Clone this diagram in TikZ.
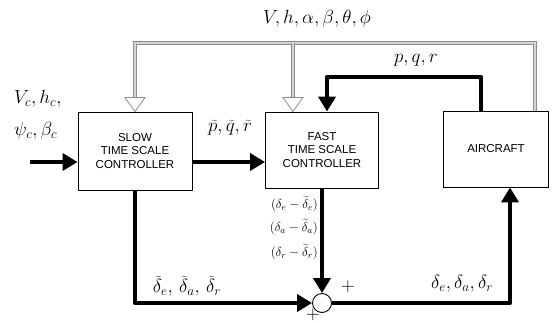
\documentclass[tikz,border=0pt]{standalone}
\usepackage{fix-cm}
\usepackage{fontspec}
\setsansfont{Liberation Sans}
\definecolor{feedGray}{HTML}{8C8C8C}
\definecolor{feedFill}{HTML}{D4D4D4}
\usepackage{tikz}
\usetikzlibrary{calc, positioning, arrows.meta}

\begin{document}
\begin{tikzpicture}[
        x=1pt, y=-1pt,
        block/.style={draw, line width=0.9pt, fill=white, font=\sffamily\fontsize{11.5}{13.5}\selectfont, align=center, inner sep=0pt},
        sig/.style={line width=4.5pt, line join=round},
        sigarrow/.style={sig, -{Triangle[length=15pt, width=17pt]}},
        feed/.style={draw=feedGray, double=feedFill, double distance=2.2pt, line width=0.8pt},
        lbl/.style={font=\fontsize{19}{21}\selectfont, inner sep=1pt},
        small/.style={font=\fontsize{13}{15}\selectfont, inner sep=0pt}
      ]
        \useasboundingbox (0,0) rectangle (553,324);

        \node[block, minimum width=114pt, minimum height=78pt] (slow) at (135,151) {SLOW\\TIME SCALE\\CONTROLLER};
        \node[block, minimum width=113pt, minimum height=76pt] (fast) at (322,150) {FAST\\TIME SCALE\\CONTROLLER};
        \node[block, minimum width=105pt, minimum height=76pt] (plant) at (496,149) {AIRCRAFT};
        \node[draw, circle, line width=0.9pt, minimum size=19pt, inner sep=0pt] (sum) at (322,303) {};

        % measured states fed back to both controllers
        \coordinate (fbR) at (535,43);
        \coordinate (fbL) at (135,43);
        \coordinate (fbM) at (293,43);
        \draw[feed] (plant.north -| fbR) -- (fbR) -- (fbL) -- ([yshift=12pt]slow.north);
        \draw[feed] (fbM) -- ([xshift=-29pt, yshift=12pt]fast.north);
        \draw[feedGray, fill=white, line width=0.8pt] (slow.north) -- ++(-10,-14) -- ++(20,0) -- cycle;
        \draw[feedGray, fill=white, line width=0.8pt] ([xshift=-29pt]fast.north) -- ++(-10,-14) -- ++(20,0) -- cycle;
        \node[lbl] (meas) at (317,19) {$V,h,\alpha,\beta,\theta,\phi$};

        % commands into the slow loop
        \coordinate (cmd) at (30,162);
        \draw[sigarrow] (cmd) -- (slow.west |- cmd);
        \node[lbl, anchor=west] (cmdA) at (13,99) {$V_c,h_c,$};
        \node[lbl, anchor=west] (cmdB) at (13,131) {$\psi_c,\beta_c$};

        \draw[sigarrow] (slow.east |- cmd) -- (fast.west |- cmd);
        \node[lbl] (rates) at (230,128) {$\widetilde{p},\widetilde{q},\widetilde{r}$};

        % body rates to fast loop
        \coordinate (prA) at ([xshift=-15pt]plant.north);
        \coordinate (prB) at ([xshift=5pt]fast.north);
        \draw[sigarrow] (prA) -- (prA |- 0,77) -- (prB |- 0,77) -- (prB);
        \node[lbl] (pqr) at (416,60) {$p,q,r$};

        % surface commands
        \draw[sigarrow] (slow.south) -- (slow.south |- sum) -- (sum.west);
        \node[lbl] (slowout) at (187,286) {$\widetilde{\delta}_e,\,\widetilde{\delta}_a,\,\widetilde{\delta}_r$};
        \draw[sigarrow] (fast.south) -- (sum.north);
        \node[small, anchor=east] (d1) at (318,204) {$(\delta_e-\widetilde{\delta}_e)$};
        \node[small, anchor=east] (d2) at (318,227) {$(\delta_a-\widetilde{\delta}_a)$};
        \node[small, anchor=east] (d3) at (318,252) {$(\delta_r-\widetilde{\delta}_r)$};
        \node[lbl] (plus1) at (348,287) {$+$};
        \node[lbl] (plus2) at (313,315) {$+$};

        \coordinate (act) at ([xshift=14pt]plant.south);
        \draw[sigarrow] (sum.east) -- (act |- sum) -- (act);
        \node[lbl] (dout) at (462,284) {$\delta_e,\delta_a,\delta_r$};
      \end{tikzpicture}
\end{document}
